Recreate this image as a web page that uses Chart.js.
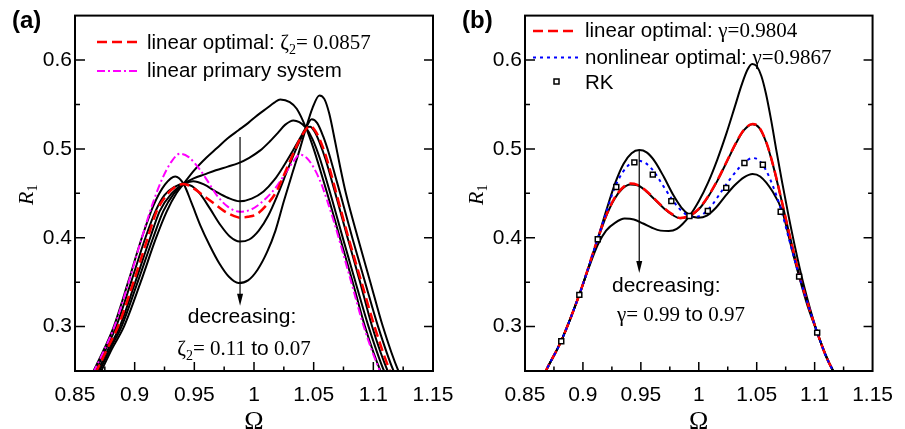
<!DOCTYPE html>
<html>
<head>
<meta charset="utf-8">
<script src="https://cdn.jsdelivr.net/npm/chart.js@4.4.1/dist/chart.umd.min.js"></script>
<style>
  html, body { margin: 0; padding: 0; background: #fff; }
  #wrap { position: relative; width: 905px; height: 429px; overflow: hidden; }
  canvas { position: absolute; top: 0; }
</style>
</head>
<body>
<div id="wrap">
  <canvas id="chartA" width="470" height="429" style="left:0"></canvas>
  <canvas id="chartB" width="455" height="429" style="left:450px"></canvas>
</div>
<script>
// -------------------------------- DATA --------------------------------//
const xTicks = [0.85, 0.9, 0.95, 1, 1.05, 1.1, 1.15];
const xTickLabels = ['0.85', '0.9', '0.95', '1', '1.05', '1.1', '1.15'];
const xMinor = [0.875, 0.925, 0.975, 1.025, 1.075, 1.125];
const yTicks = [0.3, 0.4, 0.5, 0.6];
const yTickLabels = ['0.3', '0.4', '0.5', '0.6'];
const yMinor = [0.35, 0.45, 0.55];

// panel (a): [Omega, R1] pairs, zeta2 = 0.07 ... 0.11
const zeta007 = [[0.8585,0.232],[0.8655,0.25],[0.8745,0.275],[0.8825,0.30],[0.8945,0.35],[0.906,0.40],[0.916,0.437],[0.9255,0.460],[0.934,0.469],[0.941,0.4606],[0.948,0.438],[0.955,0.414],[0.963,0.391],[0.971,0.371],[0.979,0.356],[0.987,0.349],[0.995,0.352],[1.003,0.364],[1.011,0.384],[1.018,0.408],[1.025,0.441],[1.032,0.472],[1.0385,0.500],[1.0436,0.5236],[1.049,0.546],[1.0548,0.5602],[1.059,0.556],[1.063,0.540],[1.068,0.508],[1.072,0.481],[1.077,0.45],[1.087,0.40],[1.0975,0.35],[1.108,0.30],[1.121,0.25],[1.128,0.232]];
const zeta008 = [[0.860,0.232],[0.867,0.25],[0.876,0.275],[0.8845,0.30],[0.897,0.35],[0.909,0.40],[0.9175,0.43],[0.925,0.448],[0.933,0.457],[0.941,0.4606],[0.948,0.458],[0.955,0.449],[0.963,0.433],[0.972,0.414],[0.980,0.401],[0.988,0.3957],[0.996,0.398],[1.004,0.408],[1.012,0.425],[1.020,0.449],[1.028,0.476],[1.036,0.502],[1.0436,0.5236],[1.0483,0.5333],[1.053,0.529],[1.058,0.514],[1.063,0.494],[1.068,0.47],[1.073,0.446],[1.083,0.397],[1.0935,0.348],[1.104,0.30],[1.117,0.25],[1.124,0.232]];
const zeta009 = [[0.862,0.232],[0.869,0.25],[0.878,0.275],[0.8875,0.30],[0.9005,0.35],[0.913,0.40],[0.921,0.43],[0.931,0.45],[0.941,0.4606],[0.949,0.4636],[0.958,0.460],[0.968,0.452],[0.978,0.445],[0.988,0.441],[0.998,0.444],[1.008,0.452],[1.017,0.465],[1.025,0.481],[1.033,0.499],[1.039,0.513],[1.0436,0.5236],[1.047,0.525],[1.051,0.519],[1.055,0.507],[1.060,0.488],[1.065,0.465],[1.070,0.441],[1.078,0.402],[1.0885,0.352],[1.099,0.30],[1.112,0.25],[1.119,0.232]];
const zeta010 = [[0.8635,0.232],[0.8705,0.25],[0.8795,0.275],[0.889,0.30],[0.9025,0.35],[0.9155,0.40],[0.924,0.43],[0.933,0.45],[0.941,0.4606],[0.950,0.467],[0.958,0.471],[0.968,0.476],[0.978,0.480],[0.987,0.484],[0.996,0.490],[1.005,0.498],[1.013,0.508],[1.020,0.518],[1.026,0.527],[1.033,0.532],[1.038,0.530],[1.0436,0.5236],[1.049,0.511],[1.055,0.49],[1.060,0.468],[1.065,0.445],[1.075,0.397],[1.0855,0.348],[1.096,0.30],[1.109,0.25],[1.116,0.232]];
const zeta011 = [[0.865,0.232],[0.872,0.25],[0.881,0.275],[0.891,0.30],[0.905,0.35],[0.918,0.40],[0.927,0.43],[0.935,0.45],[0.941,0.4606],[0.950,0.476],[0.960,0.490],[0.969,0.501],[0.978,0.512],[0.987,0.521],[0.995,0.529],[1.003,0.538],[1.011,0.546],[1.017,0.552],[1.022,0.5557],[1.030,0.5527],[1.0358,0.5452],[1.0436,0.5236],[1.050,0.500],[1.056,0.474],[1.062,0.447],[1.072,0.400],[1.0825,0.351],[1.093,0.30],[1.106,0.25],[1.113,0.232]];
const zetaOpt = [[0.861,0.232],[0.868,0.25],[0.877,0.275],[0.886,0.30],[0.899,0.35],[0.911,0.40],[0.9185,0.43],[0.928,0.45],[0.935,0.458],[0.941,0.4606],[0.950,0.455],[0.958,0.447],[0.966,0.439],[0.975,0.430],[0.983,0.4245],[0.988,0.4226],[0.995,0.4235],[1.002,0.4263],[1.010,0.436],[1.019,0.4524],[1.027,0.4766],[1.033,0.495],[1.0385,0.511],[1.0436,0.522],[1.047,0.526],[1.051,0.521],[1.055,0.511],[1.060,0.493],[1.065,0.47],[1.070,0.445],[1.080,0.396],[1.0905,0.348],[1.101,0.30],[1.114,0.25],[1.121,0.232]];
const primary = [[0.859,0.232],[0.866,0.25],[0.875,0.275],[0.883,0.30],[0.895,0.35],[0.906,0.40],[0.9155,0.44],[0.923,0.466],[0.931,0.486],[0.938,0.4945],[0.945,0.491],[0.9547,0.4766],[0.962,0.462],[0.9687,0.448],[0.978,0.435],[0.988,0.4293],[0.998,0.432],[1.0106,0.445],[1.018,0.456],[1.0246,0.469],[1.032,0.484],[1.0385,0.4934],[1.044,0.490],[1.050,0.479],[1.056,0.462],[1.062,0.439],[1.067,0.418],[1.072,0.395],[1.0815,0.35],[1.092,0.30],[1.1055,0.25],[1.1125,0.232]];

// panel (b): gamma = 0.99, 0.98, 0.97 and the two optimal curves
const gamma099 = [[0.862,0.232],[0.868,0.25],[0.8813,0.284],[0.8969,0.336],[0.9128,0.399],[0.920,0.430],[0.928,0.462],[0.935,0.483],[0.942,0.495],[0.9486,0.4986],[0.955,0.496],[0.962,0.486],[0.970,0.468],[0.978,0.448],[0.985,0.434],[0.992,0.4255],[0.9994,0.4226],[1.007,0.425],[1.015,0.434],[1.023,0.447],[1.031,0.459],[1.039,0.468],[1.0464,0.4718],[1.053,0.469],[1.0637,0.452],[1.0721,0.4296],[1.080,0.389],[1.0861,0.3588],[1.094,0.323],[1.1022,0.2935],[1.110,0.266],[1.116,0.25],[1.121,0.238]];
const gamma098 = [[0.862,0.232],[0.868,0.25],[0.8813,0.284],[0.8969,0.336],[0.9128,0.398],[0.920,0.424],[0.927,0.443],[0.934,0.455],[0.9408,0.4598],[0.947,0.459],[0.954,0.453],[0.962,0.443],[0.970,0.433],[0.977,0.426],[0.984,0.4218],[0.9919,0.4244],[1.000,0.432],[1.008,0.446],[1.016,0.464],[1.024,0.485],[1.032,0.506],[1.039,0.521],[1.0464,0.5277],[1.052,0.524],[1.058,0.508],[1.064,0.482],[1.0707,0.446],[1.078,0.405],[1.0866,0.359],[1.095,0.322],[1.1022,0.2935],[1.110,0.266],[1.116,0.25],[1.121,0.238]];
const gamma097 = [[0.862,0.232],[0.868,0.25],[0.8813,0.284],[0.8969,0.336],[0.905,0.366],[0.9128,0.392],[0.920,0.408],[0.928,0.417],[0.936,0.4215],[0.944,0.4205],[0.952,0.416],[0.960,0.411],[0.967,0.408],[0.974,0.4075],[0.981,0.410],[0.9919,0.4244],[1.000,0.441],[1.008,0.462],[1.016,0.488],[1.024,0.518],[1.031,0.547],[1.037,0.572],[1.042,0.589],[1.0461,0.5955],[1.050,0.593],[1.054,0.582],[1.058,0.562],[1.0625,0.532],[1.067,0.498],[1.072,0.462],[1.077,0.428],[1.083,0.390],[1.090,0.350],[1.1022,0.2935],[1.110,0.267],[1.116,0.25],[1.121,0.238]];
const gammaLin = [[0.862,0.232],[0.868,0.25],[0.8813,0.284],[0.8969,0.336],[0.9128,0.399],[0.920,0.425],[0.927,0.444],[0.934,0.456],[0.941,0.461],[0.947,0.4595],[0.954,0.4535],[0.962,0.4435],[0.970,0.4335],[0.977,0.4265],[0.984,0.4222],[0.9919,0.4246],[1.000,0.4325],[1.008,0.4465],[1.016,0.4645],[1.024,0.4855],[1.032,0.5065],[1.039,0.5215],[1.0464,0.528],[1.052,0.5245],[1.058,0.5085],[1.064,0.4825],[1.0707,0.4465],[1.078,0.405],[1.0866,0.359],[1.095,0.322],[1.1022,0.2935],[1.110,0.266],[1.116,0.25],[1.121,0.238]];
const gammaNonlin = [[0.862,0.232],[0.868,0.25],[0.8813,0.284],[0.8969,0.336],[0.9128,0.399],[0.920,0.428],[0.927,0.455],[0.934,0.473],[0.941,0.4835],[0.947,0.4866],[0.954,0.484],[0.961,0.475],[0.968,0.461],[0.976,0.445],[0.983,0.433],[0.990,0.4255],[0.996,0.4235],[1.003,0.426],[1.011,0.436],[1.019,0.451],[1.027,0.466],[1.035,0.479],[1.041,0.4865],[1.0464,0.4897],[1.052,0.487],[1.058,0.476],[1.064,0.458],[1.0707,0.433],[1.078,0.398],[1.0866,0.357],[1.095,0.322],[1.1022,0.2935],[1.110,0.266],[1.116,0.25],[1.121,0.238]];
const rkOmega = [0.8813, 0.8969, 0.9128, 0.9288, 0.9444, 0.9603, 0.9763, 0.9919, 1.0078, 1.0237, 1.0394, 1.0553, 1.0707, 1.0866, 1.1022];
const rkR = [0.2835, 0.3357, 0.3983, 0.4572, 0.4848, 0.471, 0.4412, 0.4244, 0.43, 0.4561, 0.4841, 0.4822, 0.4293, 0.3562, 0.2932];

// -------------------------------- STYLE --------------------------------//
const SANS = '"Liberation Sans", Arial, sans-serif';
const SERIF = '"Liberation Serif", "Times New Roman", serif';
const LEG = '20.5px ' + SANS;
const ANN = '21px ' + SANS;
const SER = '21px ' + SERIF;
const SUB = '14px ' + SERIF;
const RED = '#ff0000', MAGENTA = '#ff00ff', BLUE = '#0000ff';

// draw a row of text pieces with different fonts
function drawRuns(ctx, runs, x, y, align) {
    let total = 0;
    runs.forEach(r => { ctx.font = r.font; r.w = ctx.measureText(r.text).width; total += r.w; });
    let cx = align === 'center' ? x - total / 2 : x;
    runs.forEach(r => {
        ctx.font = r.font;
        ctx.fillText(r.text, cx, y + (r.dy || 0));
        cx += r.w;
    });
}

function legendLine(ctx, x1, x2, y, color, width, dash) {
    ctx.save();
    ctx.strokeStyle = color;
    ctx.lineWidth = width;
    ctx.setLineDash(dash);
    ctx.beginPath();
    ctx.moveTo(x1, y);
    ctx.lineTo(x2, y);
    ctx.stroke();
    ctx.restore();
}

function arrow(ctx, x, y1, y2) {
    ctx.save();
    ctx.strokeStyle = '#000';
    ctx.fillStyle = '#000';
    ctx.lineWidth = 1.2;
    ctx.beginPath();
    ctx.moveTo(x, y1);
    ctx.lineTo(x, y2 - 10);
    ctx.stroke();
    ctx.beginPath();
    ctx.moveTo(x - 3, y2 - 12);
    ctx.lineTo(x + 3, y2 - 12);
    ctx.lineTo(x, y2);
    ctx.closePath();
    ctx.fill();
    ctx.restore();
}

// frame, inward ticks and axis titles
function drawFrame(chart) {
    const { ctx, chartArea: a, scales: { x, y } } = chart;
    ctx.save();
    ctx.strokeStyle = '#000';
    ctx.lineWidth = 1.5;
    ctx.beginPath();
    xTicks.slice(1, -1).forEach(v => {
        const px = x.getPixelForValue(v);
        ctx.moveTo(px, a.bottom); ctx.lineTo(px, a.bottom - 9);
    });
    xMinor.forEach(v => {
        const px = x.getPixelForValue(v);
        ctx.moveTo(px, a.bottom); ctx.lineTo(px, a.bottom - 4.5);
    });
    yTicks.forEach(v => {
        const py = y.getPixelForValue(v);
        ctx.moveTo(a.left, py); ctx.lineTo(a.left + 10, py);
        ctx.moveTo(a.right, py); ctx.lineTo(a.right - 9, py);
    });
    yMinor.forEach(v => {
        const py = y.getPixelForValue(v);
        ctx.moveTo(a.left, py); ctx.lineTo(a.left + 5, py);
        ctx.moveTo(a.right, py); ctx.lineTo(a.right - 4.5, py);
    });
    ctx.stroke();
    ctx.lineWidth = 2;
    ctx.strokeRect(a.left, a.top, a.right - a.left, a.bottom - a.top);

    // axis titles
    ctx.fillStyle = '#000';
    ctx.textBaseline = 'alphabetic';
    ctx.font = '26px ' + SERIF;
    ctx.textAlign = 'center';
    ctx.fillText('\u03A9', (a.left + a.right) / 2, 429);
    ctx.textAlign = 'left';
    ctx.translate(33, 205);
    ctx.rotate(-Math.PI / 2);
    drawRuns(ctx, [{ text: 'R', font: 'italic 22px ' + SERIF }, { text: '1', font: SUB, dy: 4 }], 0, 0);
    ctx.restore();
}

function decorA(chart) {
    const { ctx, scales: { x, y } } = chart;
    drawFrame(chart);
    ctx.save();
    ctx.fillStyle = '#000';
    ctx.textBaseline = 'alphabetic';
    ctx.font = 'bold 24px ' + SANS;
    ctx.fillText('(a)', 12, 28);

    legendLine(ctx, 97, 140, 42, RED, 2.5, [10, 5]);
    drawRuns(ctx, [{ text: 'linear optimal: ', font: LEG }, { text: '\u03B6', font: SER },
        { text: '2', font: SUB, dy: 5 }, { text: '= 0.0857', font: SER }], 147, 49);
    legendLine(ctx, 97, 140, 71, MAGENTA, 2, [8, 3, 2, 3]);
    drawRuns(ctx, [{ text: 'linear primary system', font: LEG }], 147, 77);

    arrow(ctx, x.getPixelForValue(0.9883), y.getPixelForValue(0.5135), y.getPixelForValue(0.3234));
    drawRuns(ctx, [{ text: 'decreasing:', font: ANN }], 242, 323, 'center');
    drawRuns(ctx, [{ text: '\u03B6', font: SER }, { text: '2', font: SUB, dy: 5 },
        { text: '= 0.11 ', font: SER }, { text: 'to', font: ANN }, { text: ' 0.07', font: SER }], 244, 355, 'center');
    ctx.restore();
}

function decorB(chart) {
    const { ctx, scales: { x, y } } = chart;
    drawFrame(chart);
    ctx.save();
    ctx.fillStyle = '#000';
    ctx.textBaseline = 'alphabetic';
    ctx.font = 'bold 24px ' + SANS;
    ctx.fillText('(b)', 12, 28);

    legendLine(ctx, 83, 128, 31, RED, 2.5, [10, 5]);
    drawRuns(ctx, [{ text: 'linear optimal: ', font: LEG }, { text: '\u03B3=0.9804', font: SER }], 135, 37);
    legendLine(ctx, 83, 128, 57.5, BLUE, 2, [3, 4]);
    drawRuns(ctx, [{ text: 'nonlinear optimal: ', font: LEG }, { text: '\u03B3=0.9867', font: SER }], 135, 63.5);
    ctx.strokeStyle = '#000';
    ctx.lineWidth = 1.5;
    ctx.strokeRect(104, 79, 5, 5);
    drawRuns(ctx, [{ text: 'RK', font: LEG }], 135, 88.5);

    arrow(ctx, x.getPixelForValue(0.9486), y.getPixelForValue(0.4979), y.getPixelForValue(0.3603));
    drawRuns(ctx, [{ text: 'decreasing:', font: ANN }], 162, 292);
    drawRuns(ctx, [{ text: '\u03B3= 0.99 ', font: SER }, { text: 'to', font: ANN }, { text: ' 0.97', font: SER }], 167, 321);
    ctx.restore();
}

function baseOptions(rightPad) {
    return {
        responsive: false,
        animation: false,
        events: [],
        layout: { padding: { top: 13, right: rightPad, left: 0, bottom: 0 } },
        plugins: { legend: { display: false }, tooltip: { enabled: false } },
        elements: {
            point: { radius: 0 },
            line: { cubicInterpolationMode: 'monotone', borderJoinStyle: 'round', fill: false }
        },
        scales: {
            x: {
                type: 'linear', min: 0.85, max: 1.15,
                grid: { display: false, drawTicks: false }, border: { display: false },
                afterBuildTicks: s => { s.ticks = xTicks.map(v => ({ value: v })); },
                afterFit: s => { s.height = 58; },
                ticks: {
                    padding: 12, color: '#000', maxRotation: 0, autoSkip: false,
                    font: { family: SANS, size: 21 },
                    callback: (v, i) => xTickLabels[i]
                }
            },
            y: {
                type: 'linear', min: 0.25, max: 0.65,
                grid: { display: false, drawTicks: false }, border: { display: false },
                afterBuildTicks: s => { s.ticks = yTicks.map(v => ({ value: v })); },
                afterFit: s => { s.width = 75; },
                ticks: {
                    padding: 3, color: '#000',
                    font: { family: SANS, size: 21 },
                    callback: (v, i) => yTickLabels[i]
                }
            }
        }
    };
}

// -------------------------------- PANEL (a) --------------------------------//
new Chart(document.getElementById('chartA').getContext('2d'), {
    type: 'line',
    data: {
        datasets: [
            { data: zetaOpt, borderColor: RED, borderWidth: 2.5, borderDash: [10, 5], clip: 0 },
            { data: primary, borderColor: MAGENTA, borderWidth: 2, borderDash: [8, 3, 2, 3], clip: 0 },
            { data: zeta011, borderColor: '#000', borderWidth: 2, clip: 0 },
            { data: zeta010, borderColor: '#000', borderWidth: 2, clip: 0 },
            { data: zeta009, borderColor: '#000', borderWidth: 2, clip: 0 },
            { data: zeta008, borderColor: '#000', borderWidth: 2, clip: 0 },
            { data: zeta007, borderColor: '#000', borderWidth: 2, clip: 0 }
        ]
    },
    options: baseOptions(37),
    plugins: [{ id: 'decorA', afterDatasetsDraw: decorA }]
});

// -------------------------------- PANEL (b) --------------------------------//
new Chart(document.getElementById('chartB').getContext('2d'), {
    type: 'line',
    data: {
        datasets: [
            {
                data: rkOmega.map((w, i) => ({ x: w, y: rkR[i] })), showLine: false,
                pointStyle: 'rect', pointRadius: 3.5, pointBorderWidth: 1.5,
                pointBorderColor: '#000', pointBackgroundColor: '#fff', clip: 0
            },
            { data: gammaNonlin, borderColor: BLUE, borderWidth: 2, borderDash: [3, 4], clip: 0 },
            { data: gammaLin, borderColor: RED, borderWidth: 2.5, borderDash: [10, 5], clip: 0 },
            { data: gamma099, borderColor: '#000', borderWidth: 2, clip: 0 },
            { data: gamma098, borderColor: '#000', borderWidth: 2, clip: 0 },
            { data: gamma097, borderColor: '#000', borderWidth: 2, clip: 0 }
        ]
    },
    options: baseOptions(22),
    plugins: [{ id: 'decorB', afterDatasetsDraw: decorB }]
});
</script>
</body>
</html>
